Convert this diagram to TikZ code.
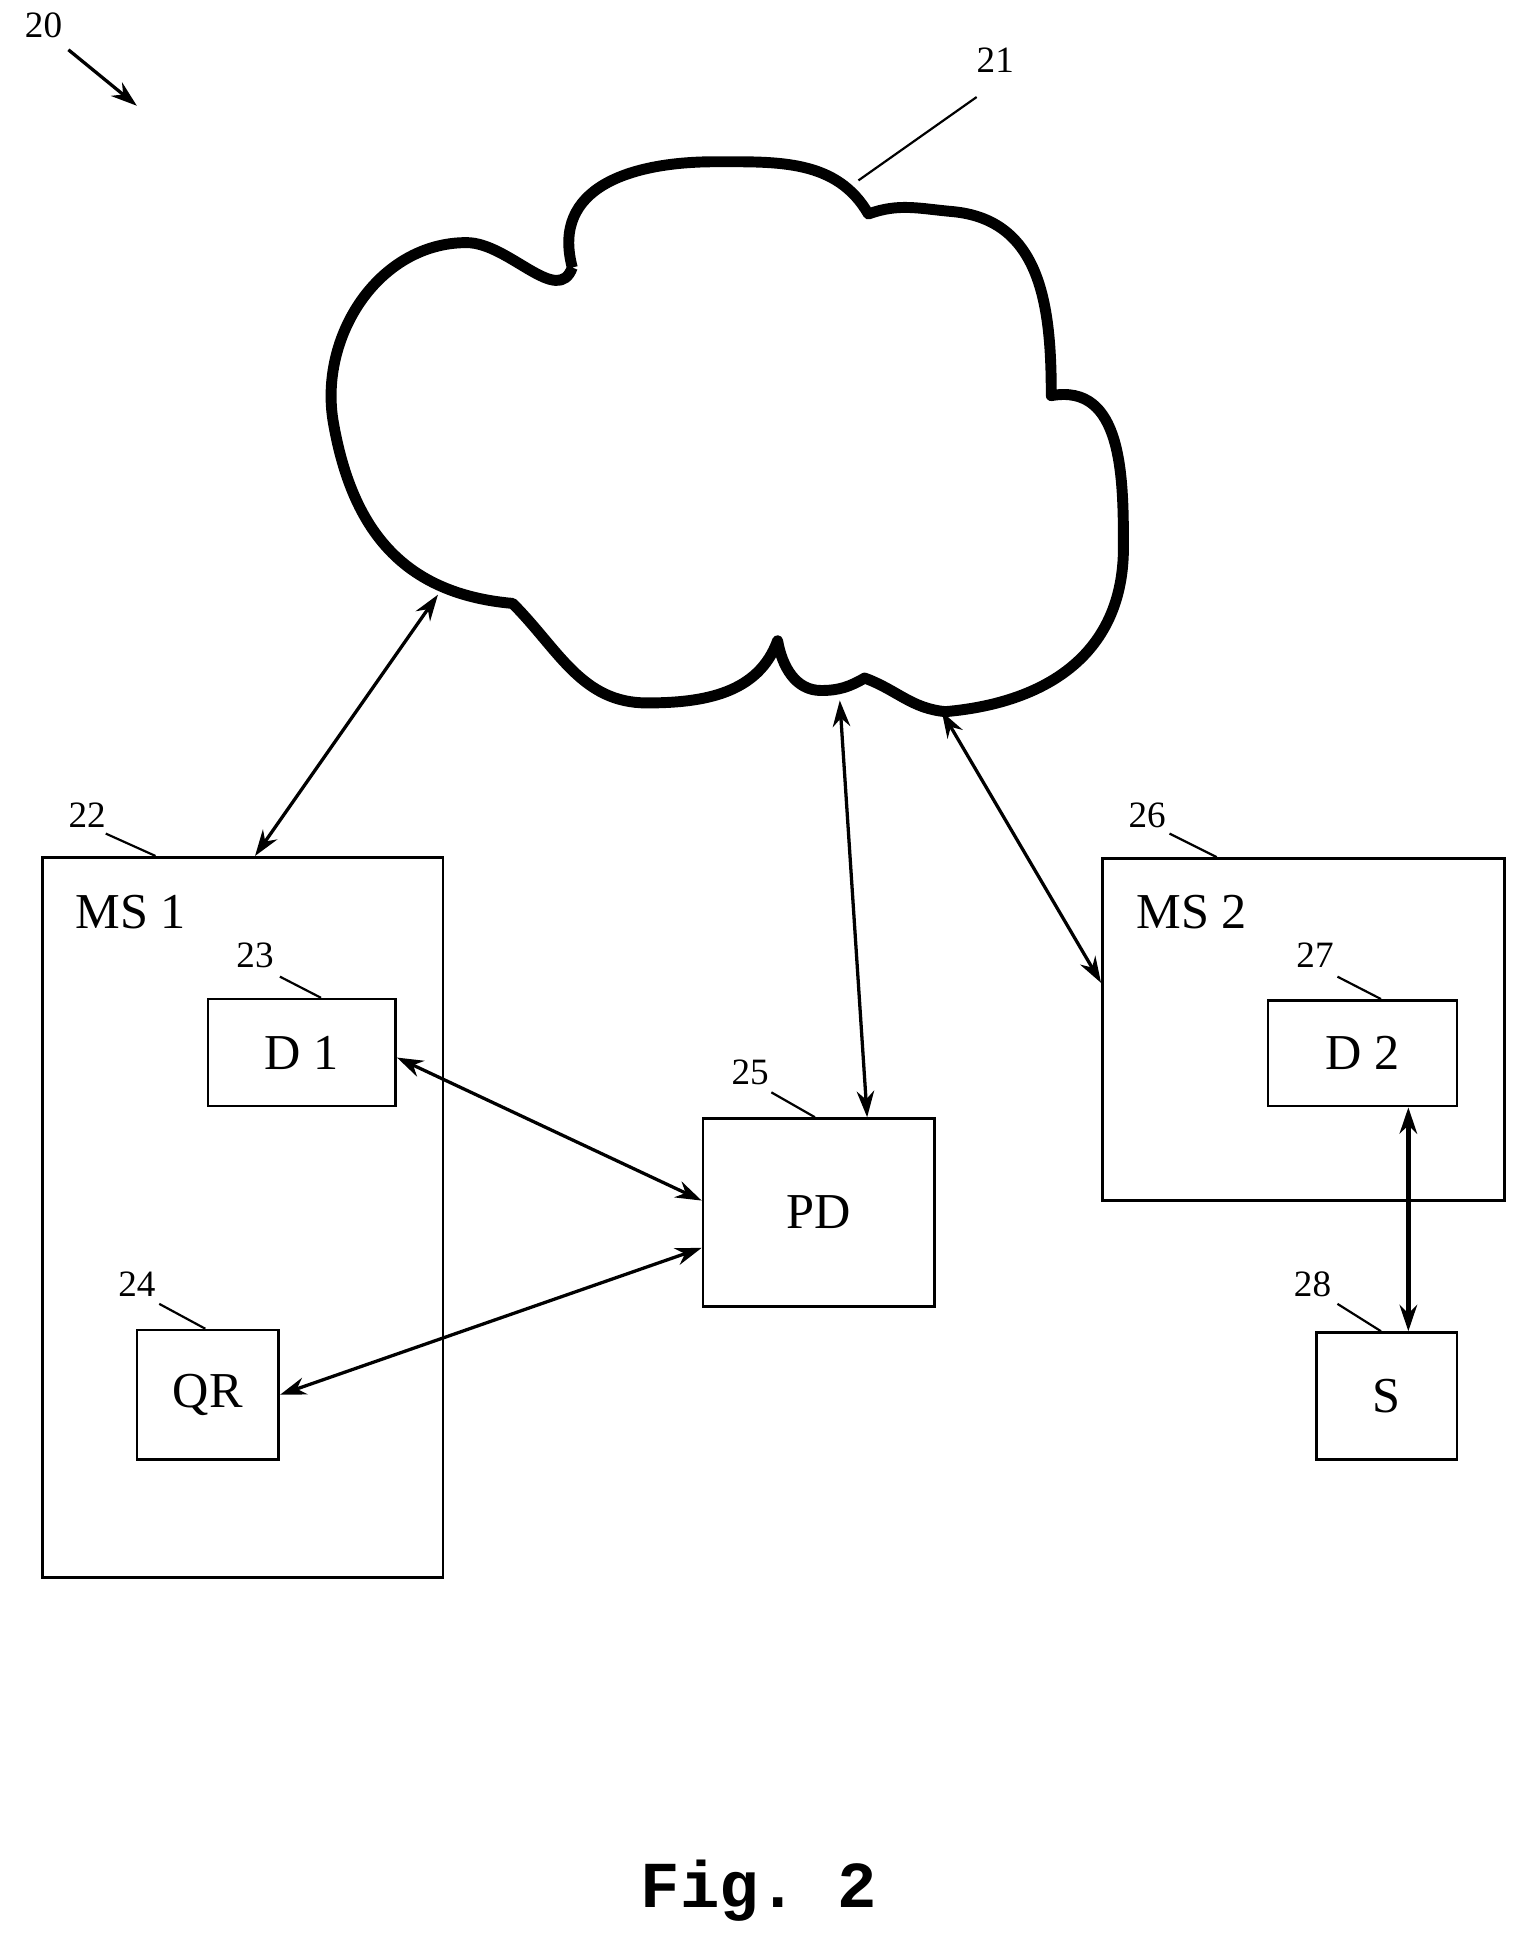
\documentclass[tikz,border=0pt]{standalone}
\usepackage{fontspec}
\setmainfont{Liberation Serif}
\setmonofont{Liberation Mono}
\usetikzlibrary{arrows.meta}
\begin{document}
\begin{tikzpicture}[x=0.02cm,y=-0.02cm,
  box/.style={draw,line width=1.2pt,inner sep=0,anchor=north west},
  lbl/.style={font=\fontsize{23}{23}\selectfont},
  num/.style={font=\fontsize{17}{17}\selectfont},
  lead/.style={line width=1pt},
  conn/.style={line width=1.5pt,{Stealth[length=12pt,width=8pt]}-{Stealth[length=12pt,width=8pt]}}]
\useasboundingbox (0,0) rectangle (1226,1573);
% cloud
\coordinate (A) at (460,215);
\coordinate (B) at (698,172);
\coordinate (C) at (845,318);
\coordinate (D) at (760,572);
\coordinate (E) at (695,545);
\coordinate (F) at (625,515);
\coordinate (G) at (412,485);
\draw[line width=5pt,line join=round] (A) to[out=105,in=180,looseness=1.2] (575,130) to[out=0,in=120] (B)
  to[out=20,in=175] (765,170) to[out=-5,in=90,looseness=1.1] (C)
  to[out=10,in=90,looseness=1.1] (903,440) to[out=-90,in=5,looseness=1.1] (D)
  to[out=175,in=-20] (E) to[out=-150,in=0] (660,555) to[out=180,in=-80] (F)
  to[out=-110,in=0] (520,565) to[out=180,in=-45] (G)
  to[out=175,in=-80,looseness=1.1] (268,340) to[out=100,in=180] (375,195) to[out=0,in=-110] (A);
\coordinate (c1) at (352,478);
\coordinate (c2) at (675,563);
\coordinate (c3) at (757,572);
\node[num] (n20) at (35,20) {20};
\coordinate (a20s) at (55,40); \coordinate (a20e) at (110,85);
\draw[line width=1.5pt,-{Stealth[length=12pt,width=8pt]}] (a20s) -- (a20e);
\node[num] (n21) at (800,48) {21};
\coordinate (l21a) at (785,78); \coordinate (l21b) at (690,145);
\draw[lead] (l21a) -- (l21b);
% boxes
\node[box,minimum width=322*0.02cm,minimum height=579*0.02cm] (ms1) at (33,688) {};
\coordinate (ms1top) at (205,688);
\node[lbl] (ms1l) at (105,733) {MS 1};
\node[num] (n22) at (70,655) {22}; \draw[lead] (85,670) -- (125,688);
\node[box,minimum width=151*0.02cm,minimum height=86*0.02cm,lbl] (d1) at (166,802) {D 1};
\node[num] (n23) at (205,768) {23}; \draw[lead] (225,785) -- (258,802);
\node[box,minimum width=114*0.02cm,minimum height=104*0.02cm,lbl] (qr) at (109,1068) {QR};
\node[num] (n24) at (110,1032) {24}; \draw[lead] (128,1048) -- (165,1068);
\node[box,minimum width=186*0.02cm,minimum height=151*0.02cm,lbl] (pd) at (564,898) {PD};
\node[num] (n25) at (603,862) {25}; \draw[lead] (620,878) -- (655,898);
\node[box,minimum width=323*0.02cm,minimum height=275*0.02cm] (ms2) at (885,689) {};
\coordinate (ms2l) at (885,790);
\node[lbl] (ms2t) at (958,733) {MS 2};
\node[num] (n26) at (922,655) {26}; \draw[lead] (940,670) -- (978,689);
\node[box,minimum width=152*0.02cm,minimum height=85*0.02cm,lbl] (d2) at (1018,803) {D 2};
\node[num] (n27) at (1057,768) {27}; \draw[lead] (1075,785) -- (1110,803);
\node[box,minimum width=113*0.02cm,minimum height=102*0.02cm,lbl] (s) at (1057,1070) {S};
\node[num] (n28) at (1055,1032) {28}; \draw[lead] (1075,1048) -- (1110,1070);
% connectors
\draw[conn] (c1) -- (ms1top);
\draw[conn] (c2) -- (pd.north -| 697,0);
\draw[conn] (c3) -- (ms2l);
\draw[conn] (d1.east) ++(0,4) coordinate (d1e) (d1e) -- (pd.west |- 0,965);
\draw[conn] (qr.east) -- (pd.west |- 0,1003);
\draw[conn,line width=2.2pt] (d2.south -| 1132,0) -- (s.north -| 1132,0);
\node[font=\ttfamily\bfseries\fontsize{30}{30}\selectfont] (fig) at (610,1520) {Fig. 2};
\end{tikzpicture}
\end{document}
